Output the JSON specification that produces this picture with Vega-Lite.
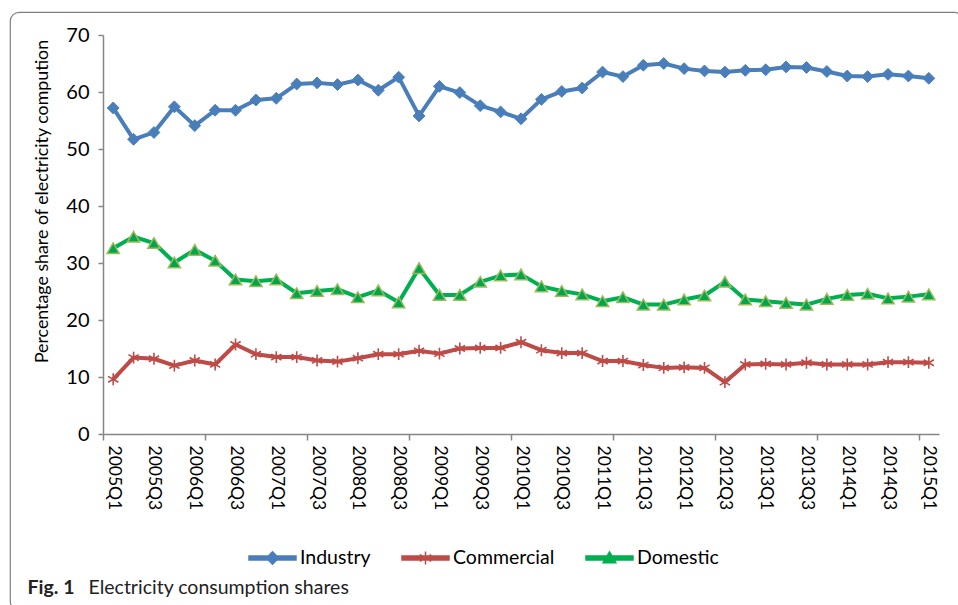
{
  "$schema": "https://vega.github.io/schema/vega-lite/v6.json",
  "width": 953,
  "height": 598,
  "autosize": {"type": "none"},
  "padding": {"left": 10, "top": 12, "right": -5, "bottom": -5},
  "config": {
    "view": {"stroke": "#7f7f7f", "strokeWidth": 1.2, "cornerRadius": 9},
    "font": "Lato",
    "axis": {"grid": false}
  },
  "data": {"values": [
    {"q":"2005Q1","s":"Industry","v":57.2},{"q":"2005Q2","s":"Industry","v":51.7},{"q":"2005Q3","s":"Industry","v":52.9},{"q":"2005Q4","s":"Industry","v":57.4},
    {"q":"2006Q1","s":"Industry","v":54.1},{"q":"2006Q2","s":"Industry","v":56.8},{"q":"2006Q3","s":"Industry","v":56.8},{"q":"2006Q4","s":"Industry","v":58.6},
    {"q":"2007Q1","s":"Industry","v":58.9},{"q":"2007Q2","s":"Industry","v":61.4},{"q":"2007Q3","s":"Industry","v":61.6},{"q":"2007Q4","s":"Industry","v":61.3},
    {"q":"2008Q1","s":"Industry","v":62.1},{"q":"2008Q2","s":"Industry","v":60.3},{"q":"2008Q3","s":"Industry","v":62.6},{"q":"2008Q4","s":"Industry","v":55.8},
    {"q":"2009Q1","s":"Industry","v":61.0},{"q":"2009Q2","s":"Industry","v":59.9},{"q":"2009Q3","s":"Industry","v":57.6},{"q":"2009Q4","s":"Industry","v":56.5},
    {"q":"2010Q1","s":"Industry","v":55.3},{"q":"2010Q2","s":"Industry","v":58.7},{"q":"2010Q3","s":"Industry","v":60.1},{"q":"2010Q4","s":"Industry","v":60.7},
    {"q":"2011Q1","s":"Industry","v":63.5},{"q":"2011Q2","s":"Industry","v":62.7},{"q":"2011Q3","s":"Industry","v":64.7},{"q":"2011Q4","s":"Industry","v":65.0},
    {"q":"2012Q1","s":"Industry","v":64.1},{"q":"2012Q2","s":"Industry","v":63.7},{"q":"2012Q3","s":"Industry","v":63.5},{"q":"2012Q4","s":"Industry","v":63.8},
    {"q":"2013Q1","s":"Industry","v":63.9},{"q":"2013Q2","s":"Industry","v":64.4},{"q":"2013Q3","s":"Industry","v":64.3},{"q":"2013Q4","s":"Industry","v":63.6},
    {"q":"2014Q1","s":"Industry","v":62.8},{"q":"2014Q2","s":"Industry","v":62.7},{"q":"2014Q3","s":"Industry","v":63.1},{"q":"2014Q4","s":"Industry","v":62.8},
    {"q":"2015Q1","s":"Industry","v":62.4},
    {"q":"2005Q1","s":"Commercial","v":9.6},{"q":"2005Q2","s":"Commercial","v":13.4},{"q":"2005Q3","s":"Commercial","v":13.2},{"q":"2005Q4","s":"Commercial","v":12.0},
    {"q":"2006Q1","s":"Commercial","v":12.9},{"q":"2006Q2","s":"Commercial","v":12.2},{"q":"2006Q3","s":"Commercial","v":15.7},{"q":"2006Q4","s":"Commercial","v":14.0},
    {"q":"2007Q1","s":"Commercial","v":13.5},{"q":"2007Q2","s":"Commercial","v":13.5},{"q":"2007Q3","s":"Commercial","v":12.9},{"q":"2007Q4","s":"Commercial","v":12.7},
    {"q":"2008Q1","s":"Commercial","v":13.3},{"q":"2008Q2","s":"Commercial","v":14.0},{"q":"2008Q3","s":"Commercial","v":14.0},{"q":"2008Q4","s":"Commercial","v":14.6},
    {"q":"2009Q1","s":"Commercial","v":14.1},{"q":"2009Q2","s":"Commercial","v":15.0},{"q":"2009Q3","s":"Commercial","v":15.1},{"q":"2009Q4","s":"Commercial","v":15.1},
    {"q":"2010Q1","s":"Commercial","v":16.1},{"q":"2010Q2","s":"Commercial","v":14.7},{"q":"2010Q3","s":"Commercial","v":14.2},{"q":"2010Q4","s":"Commercial","v":14.2},
    {"q":"2011Q1","s":"Commercial","v":12.8},{"q":"2011Q2","s":"Commercial","v":12.8},{"q":"2011Q3","s":"Commercial","v":12.1},{"q":"2011Q4","s":"Commercial","v":11.6},
    {"q":"2012Q1","s":"Commercial","v":11.7},{"q":"2012Q2","s":"Commercial","v":11.6},{"q":"2012Q3","s":"Commercial","v":9.1},{"q":"2012Q4","s":"Commercial","v":12.2},
    {"q":"2013Q1","s":"Commercial","v":12.3},{"q":"2013Q2","s":"Commercial","v":12.2},{"q":"2013Q3","s":"Commercial","v":12.5},{"q":"2013Q4","s":"Commercial","v":12.2},
    {"q":"2014Q1","s":"Commercial","v":12.2},{"q":"2014Q2","s":"Commercial","v":12.2},{"q":"2014Q3","s":"Commercial","v":12.6},{"q":"2014Q4","s":"Commercial","v":12.6},
    {"q":"2015Q1","s":"Commercial","v":12.5},
    {"q":"2005Q1","s":"Domestic","v":32.6},{"q":"2005Q2","s":"Domestic","v":34.6},{"q":"2005Q3","s":"Domestic","v":33.5},{"q":"2005Q4","s":"Domestic","v":30.1},
    {"q":"2006Q1","s":"Domestic","v":32.3},{"q":"2006Q2","s":"Domestic","v":30.4},{"q":"2006Q3","s":"Domestic","v":27.1},{"q":"2006Q4","s":"Domestic","v":26.8},
    {"q":"2007Q1","s":"Domestic","v":27.1},{"q":"2007Q2","s":"Domestic","v":24.7},{"q":"2007Q3","s":"Domestic","v":25.1},{"q":"2007Q4","s":"Domestic","v":25.4},
    {"q":"2008Q1","s":"Domestic","v":24.0},{"q":"2008Q2","s":"Domestic","v":25.2},{"q":"2008Q3","s":"Domestic","v":23.1},{"q":"2008Q4","s":"Domestic","v":29.1},
    {"q":"2009Q1","s":"Domestic","v":24.4},{"q":"2009Q2","s":"Domestic","v":24.4},{"q":"2009Q3","s":"Domestic","v":26.7},{"q":"2009Q4","s":"Domestic","v":27.8},
    {"q":"2010Q1","s":"Domestic","v":28.0},{"q":"2010Q2","s":"Domestic","v":25.9},{"q":"2010Q3","s":"Domestic","v":25.1},{"q":"2010Q4","s":"Domestic","v":24.5},
    {"q":"2011Q1","s":"Domestic","v":23.3},{"q":"2011Q2","s":"Domestic","v":24.0},{"q":"2011Q3","s":"Domestic","v":22.7},{"q":"2011Q4","s":"Domestic","v":22.7},
    {"q":"2012Q1","s":"Domestic","v":23.6},{"q":"2012Q2","s":"Domestic","v":24.3},{"q":"2012Q3","s":"Domestic","v":26.7},{"q":"2012Q4","s":"Domestic","v":23.6},
    {"q":"2013Q1","s":"Domestic","v":23.3},{"q":"2013Q2","s":"Domestic","v":23.0},{"q":"2013Q3","s":"Domestic","v":22.7},{"q":"2013Q4","s":"Domestic","v":23.7},
    {"q":"2014Q1","s":"Domestic","v":24.4},{"q":"2014Q2","s":"Domestic","v":24.6},{"q":"2014Q3","s":"Domestic","v":23.8},{"q":"2014Q4","s":"Domestic","v":24.1},
    {"q":"2015Q1","s":"Domestic","v":24.5}
  ]},
  "layer": [
    {
      "mark": {"type": "line", "strokeWidth": 4, "strokeJoin": "round"},
      "encoding": {
        "x": {
          "field": "q", "type": "ordinal",
          "scale": {"type": "point", "range": [93, 929], "padding": 0.5},
          "axis": {
            "orient": "bottom", "offset": -176,
            "values": ["2005Q1","2005Q3","2006Q1","2006Q3","2007Q1","2007Q3","2008Q1","2008Q3","2009Q1","2009Q3","2010Q1","2010Q3","2011Q1","2011Q3","2012Q1","2012Q3","2013Q1","2013Q3","2014Q1","2014Q3","2015Q1"],
            "labelAngle": 90, "labelAlign": "left", "labelBaseline": "middle",
            "labelFontSize": 17.5, "labelPadding": 11, "labelColor": "#000000", "labelOverlap": false,
            "ticks": false, "domainColor": "#868686", "domainWidth": 1.5,
            "title": "Electricity consumption shares", "titleX": 78, "titleY": 159,
            "titleAlign": "left", "titleBaseline": "alphabetic", "titleAngle": 0,
            "titleFontSize": 19.5, "titleFontWeight": "normal", "titleColor": "#222222"
          }
        },
        "y": {
          "field": "v", "type": "quantitative",
          "scale": {"domain": [0, 70], "range": [422, 23], "nice": false},
          "axis": {
            "orient": "left", "offset": -93,
            "values": [0, 10, 20, 30, 40, 50, 60, 70],
            "tickSize": 5, "tickColor": "#868686", "tickWidth": 1.5,
            "domainColor": "#868686", "domainWidth": 1.5,
            "labelFontSize": 20, "labelPadding": 9, "labelColor": "#000000",
            "title": "Percentage share of electricity compution",
            "titleFontSize": 17.8, "titleFontWeight": "normal", "titleColor": "#000000",
            "titleX": -61, "titleY": 189, "titleAlign": "center", "titleBaseline": "middle", "titleAngle": 270
          }
        },
        "color": {
          "field": "s", "type": "nominal",
          "scale": {"domain": ["Industry", "Commercial", "Domestic"], "range": ["#4A7EBB", "#BE4B48", "#00B050"]},
          "legend": {
            "orient": "none", "legendX": 238, "legendY": 521, "direction": "horizontal",
            "title": null, "symbolSize": 2209, "symbolStrokeWidth": 1.5,
            "labelFontSize": 19.5, "labelOffset": 3, "columnPadding": 28, "labelColor": "#000000",
            "symbolType": "M-1,-0.085H1V0.085H-1Z",
            "encode": {
              "symbols": {
                "update": {
                  "shape": {"signal": "datum.value === 'Industry' ? 'M-1,-0.085H1V0.085H-1ZM0,-0.26L0.26,0L0,0.26L-0.26,0Z' : datum.value === 'Commercial' ? 'M-1,-0.085H1V0.085H-1ZM0,-0.28V0.28M-0.24,-0.14L0.24,0.14M-0.24,0.14L0.24,-0.14' : 'M-1,-0.085H1V0.085H-1ZM0,-0.26L0.27,0.2L-0.27,0.2Z'"},
                  "fill": {"signal": "datum.value === 'Industry' ? '#4A7EBB' : datum.value === 'Commercial' ? '#BE4B48' : '#00B050'"},
                  "stroke": {"signal": "datum.value === 'Industry' ? '#4A7EBB' : datum.value === 'Commercial' ? '#BE4B48' : '#00B050'"},
                  "opacity": {"value": 1}
                }
              }
            }
          }
        }
      }
    },
    {
      "transform": [{"filter": "datum.s === 'Industry'"}],
      "mark": {"type": "point", "shape": "diamond", "filled": true, "size": 140, "fill": "#4A7EBB", "stroke": "#4A7EBB", "strokeWidth": 1, "opacity": 1},
      "encoding": {
        "x": {
          "field": "q", "type": "ordinal",
          "axis": {
            "orient": "bottom", "offset": -176,
            "values": ["2005Q1","2006Q2","2007Q3","2008Q4","2010Q1","2011Q2","2012Q3","2013Q4","2015Q1"],
            "labels": false, "domain": false, "ticks": true, "tickSize": 6,
            "tickColor": "#868686", "tickWidth": 1.5, "tickOffset": -10.195,
            "title": "Fig. 1", "titleX": 17, "titleY": 159, "titleAlign": "left", "titleBaseline": "alphabetic", "titleAngle": 0,
            "titleFontSize": 19.5, "titleFontWeight": "bold", "titleColor": "#222222"
          }
        },
        "y": {"field": "v", "type": "quantitative"}
      }
    },
    {
      "transform": [{"filter": "datum.s === 'Commercial'"}],
      "mark": {"type": "point", "shape": "M0,-1V1M-0.87,-0.5L0.87,0.5M-0.87,0.5L0.87,-0.5", "filled": false, "size": 140, "stroke": "#BE4B48", "strokeWidth": 1.6, "opacity": 1},
      "encoding": {
        "x": {"field": "q", "type": "ordinal", "axis": null},
        "y": {"field": "v", "type": "quantitative"}
      }
    },
    {
      "transform": [{"filter": "datum.s === 'Domestic'"}],
      "mark": {"type": "point", "shape": "triangle-up", "filled": true, "size": 150, "fill": "#00A550", "stroke": "#9BBB59", "strokeWidth": 1.5, "opacity": 1},
      "encoding": {
        "x": {"field": "q", "type": "ordinal", "axis": null},
        "y": {"field": "v", "type": "quantitative"}
      }
    }
  ],
  "resolve": {"axis": {"x": "independent"}}
}
